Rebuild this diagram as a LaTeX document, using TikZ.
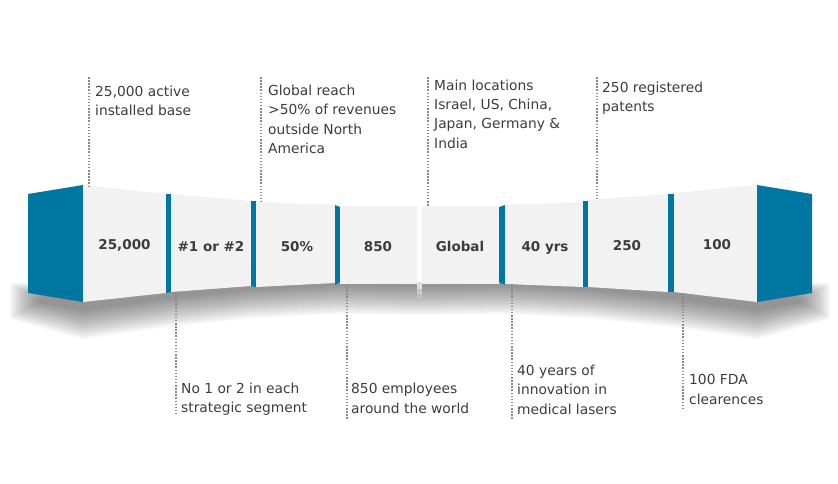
\documentclass[tikz,border=0pt]{standalone}
\usepackage{fontspec}
\setmainfont{DejaVu Sans}
\definecolor{cblue}{HTML}{0076A3}
\definecolor{cpanel}{HTML}{F2F2F2}
\definecolor{ctext}{HTML}{3C3C3C}
\definecolor{cdot}{HTML}{8A8A8A}
\tikzset{
  blueface/.style={fill=cblue},
  panelface/.style={fill=cpanel},
  num/.style={font=\fontsize{13.5}{16}\selectfont\bfseries, text=ctext, anchor=base, inner sep=0pt},
  lbl/.style={font=\fontsize{13.8}{19.3}\selectfont, text=ctext, anchor=base west, inner sep=0pt, align=left},
  dotline/.style={draw=cdot, line width=1.5pt, dash pattern=on 1.5pt off 1.6pt},
}
\begin{document}
\begin{tikzpicture}[x=1pt,y=-1pt]
\useasboundingbox (0,0) rectangle (838,483);
% shadow (stacked translucent layers imitate a blur)
\foreach \k in {0,...,14}{
  \pgfmathsetmacro\d{2*\k}
  \fill[black,opacity=0.034]
    ({38-\d},{300-0.6*\d}) -- ({38-\d},{302+0.6*\d}) -- (83,{311+\d}) -- (166,{299+\d})
    -- (251,{290+\d}) -- (335,{286+\d}) -- (420,{287+\d}) -- (505,{286+\d})
    -- (588,{290+\d}) -- (674,{299+\d}) -- (757,{311+\d}) -- ({802+\d},{302+0.6*\d})
    -- ({802+\d},{300-0.6*\d}) -- (757,282) -- (83,282) -- cycle;
}
\fill[white,opacity=0.7] (417,282) rectangle (422,289);
\fill[white,opacity=0.4] (417,289) rectangle (422,294);
\fill[white,opacity=0.2] (417,294) rectangle (422,298);
% faces
\fill[blueface] (28,194) -- (83,185) -- (83,302) -- (28,293) -- cycle;
\fill[panelface] (83,185) -- (166,194) -- (166,293) -- (83,302) -- cycle;
\fill[blueface] (166,194) -- (171,194) -- (171,292) -- (166,293) -- cycle;
\fill[panelface] (171,194) -- (251,201) -- (251,286) -- (171,292) -- cycle;
\fill[blueface] (251,201) -- (256,201) -- (256,287) -- (251,286) -- cycle;
\fill[panelface] (256,202) -- (335,205) -- (335,283) -- (256,287) -- cycle;
\fill[blueface] (335,205) -- (340,207) -- (340,282) -- (335,285) -- cycle;
\fill[panelface] (340,206) -- (417,206) -- (417,284) -- (340,284) -- cycle;
\fill[panelface] (422,206) -- (499,206) -- (499,284) -- (422,284) -- cycle;
\fill[blueface] (499,207) -- (505,205) -- (505,285) -- (499,282) -- cycle;
\fill[panelface] (505,205) -- (583,202) -- (583,287) -- (505,284) -- cycle;
\fill[blueface] (583,201) -- (588,201) -- (588,287) -- (583,287) -- cycle;
\fill[panelface] (588,200) -- (668,194) -- (668,292) -- (588,287) -- cycle;
\fill[blueface] (668,194) -- (674,194) -- (674,292) -- (668,292) -- cycle;
\fill[panelface] (674,193) -- (757,185) -- (757,302) -- (674,292) -- cycle;
\fill[blueface] (757,185) -- (812,194) -- (812,293) -- (757,302) -- cycle;
% numbers
\node[num] (n1) at (124.5,249.5) {25,000};
\node[num] (n2) at (211,251) {\#1 or \#2};
\node[num] (n3) at (297,251) {50\%};
\node[num] (n4) at (378,251.5) {850};
\node[num] (n5) at (460,251) {Global};
\node[num] (n6) at (545,251) {40 yrs};
\node[num] (n7) at (627,250) {250};
\node[num] (n8) at (717,249.5) {100};
% dotted connectors
\coordinate (d1a) at (89,77);   \coordinate (d1b) at (89,186);
\coordinate (d2a) at (261,77);  \coordinate (d2b) at (261,202);
\coordinate (d3a) at (428,77);  \coordinate (d3b) at (428,206);
\coordinate (d4a) at (597,77);  \coordinate (d4b) at (597,199);
\coordinate (e1a) at (176,292); \coordinate (e1b) at (176,413);
\coordinate (e2a) at (347,284); \coordinate (e2b) at (347,419);
\coordinate (e3a) at (512,284); \coordinate (e3b) at (512,419);
\coordinate (e4a) at (683,293); \coordinate (e4b) at (683,410);
\draw[dotline] (d1a) -- (d1b);
\draw[dotline] (d2a) -- (d2b);
\draw[dotline] (d3a) -- (d3b);
\draw[dotline] (d4a) -- (d4b);
\draw[dotline] (e1a) -- (e1b);
\draw[dotline] (e2a) -- (e2b);
\draw[dotline] (e3a) -- (e3b);
\draw[dotline] (e4a) -- (e4b);
% labels (anchor = baseline of the last line)
\node[lbl] (t1) at (95,115.7) {25,000 active\\installed base};
\node[lbl] (t2) at (268,153.5) {Global reach\\>50\% of revenues\\outside North\\America};
\node[lbl] (t3) at (434,148) {Main locations\\Israel, US, China,\\Japan, Germany \&\\India};
\node[lbl] (t4) at (602,111.7) {250 registered\\patents};
\node[lbl] (b1) at (181,412.7) {No 1 or 2 in each\\strategic segment};
\node[lbl] (b2) at (351,413) {850 employees\\around the world};
\node[lbl] (b3) at (517,414) {40 years of\\innovation in\\medical lasers};
\node[lbl] (b4) at (689,404) {100 FDA\\clearences};
\end{tikzpicture}
\end{document}
